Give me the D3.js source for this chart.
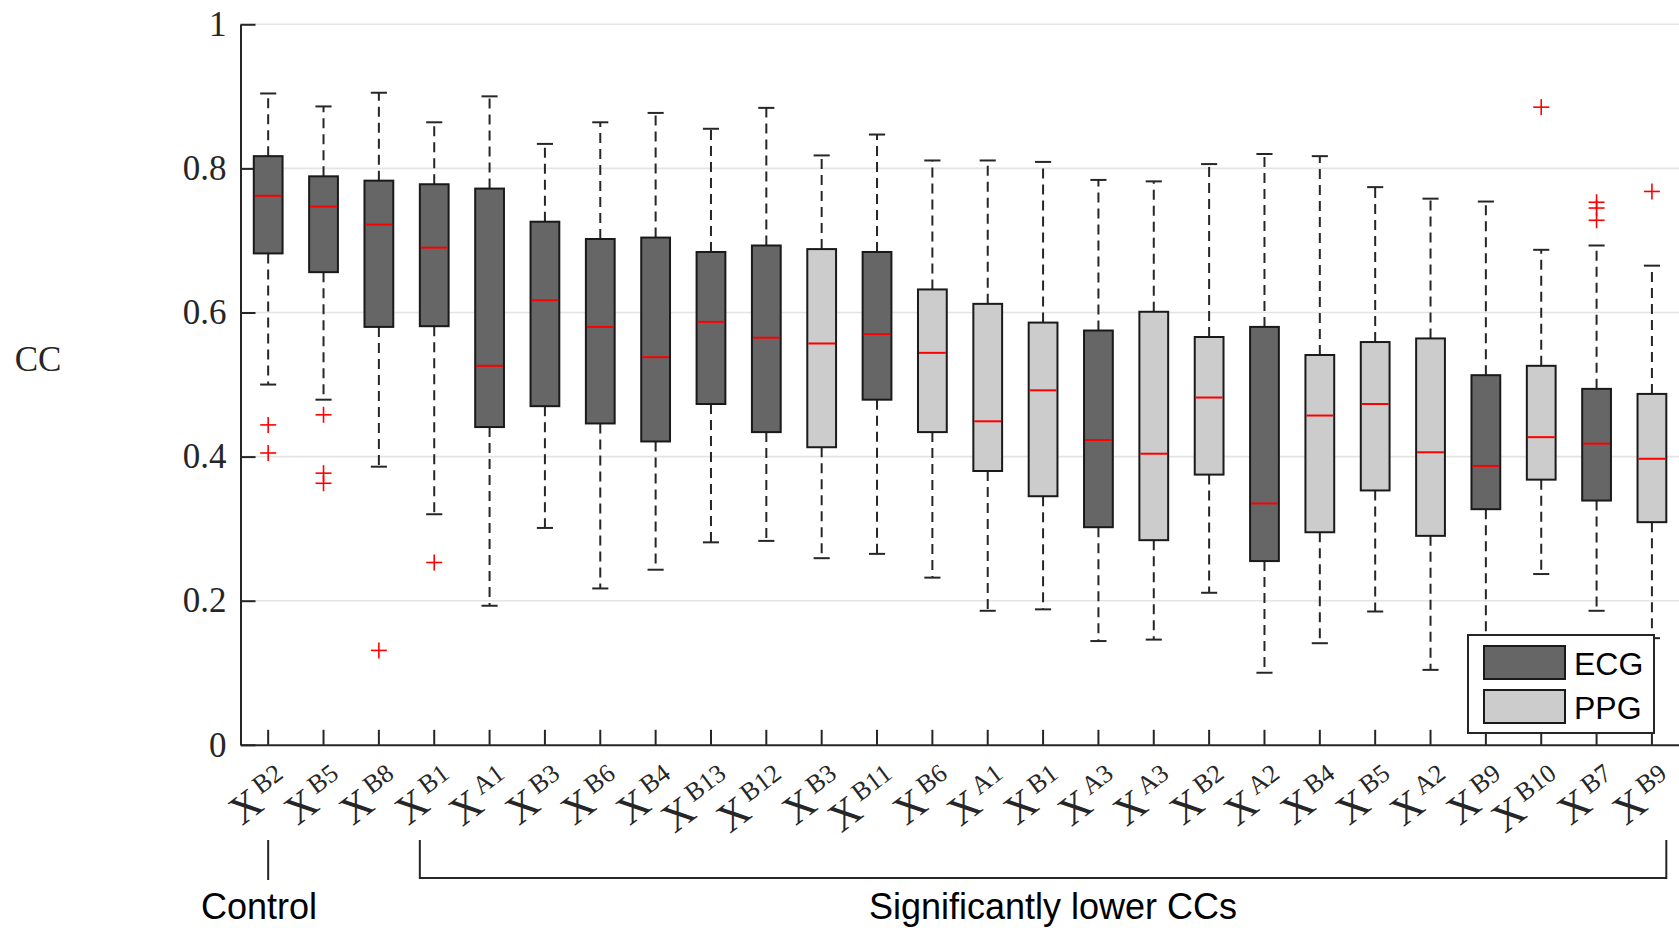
<!DOCTYPE html>
<html>
<head>
<meta charset="utf-8">
<script src="https://cdn.jsdelivr.net/npm/d3@7"></script>
<style>
  html, body { margin: 0; padding: 0; background: #fff; }
  svg { display: block; }
</style>
</head>
<body>
<svg id="chart" width="1679" height="930"></svg>
<script>
// ---- Data ----
const labelBase = "X";
const labelSup = ["B2","B5","B8","B1","A1","B3","B6","B4","B13","B12","B3","B11","B6","A1","B1","A3","A3","B2","A2","B4","B5","A2","B9","B10","B7","B9"];
const signalType = ["ECG","ECG","ECG","ECG","ECG","ECG","ECG","ECG","ECG","ECG","PPG","ECG","PPG","PPG","PPG","ECG","PPG","PPG","ECG","PPG","PPG","PPG","ECG","PPG","ECG","PPG"];
const whiskerHigh = [0.904,0.886,0.905,0.864,0.900,0.834,0.864,0.877,0.855,0.884,0.818,0.847,0.811,0.811,0.809,0.784,0.782,0.806,0.820,0.817,0.774,0.758,0.754,0.687,0.693,0.665];
const q3Values    = [0.817,0.789,0.783,0.778,0.772,0.726,0.702,0.704,0.684,0.693,0.688,0.684,0.632,0.612,0.586,0.575,0.601,0.566,0.580,0.541,0.559,0.564,0.513,0.526,0.494,0.487];
const medianValues= [0.762,0.747,0.722,0.690,0.526,0.617,0.580,0.538,0.587,0.565,0.557,0.570,0.544,0.449,0.492,0.423,0.404,0.482,0.335,0.457,0.473,0.406,0.387,0.427,0.418,0.397];
const q1Values    = [0.682,0.656,0.580,0.581,0.441,0.470,0.446,0.421,0.473,0.434,0.413,0.479,0.434,0.380,0.345,0.302,0.284,0.375,0.255,0.295,0.353,0.290,0.327,0.368,0.339,0.309];
const whiskerLow  = [0.500,0.479,0.386,0.320,0.193,0.301,0.217,0.243,0.281,0.283,0.259,0.265,0.232,0.186,0.188,0.144,0.146,0.211,0.100,0.141,0.185,0.104,0.130,0.237,0.186,0.148];
const outlierValues = [[0.444,0.405],[0.458,0.377,0.363],[0.131],[0.253],[],[],[],[],[],[],[],[],[],[],[],[],[],[],[],[],[],[],[],[0.885],[0.753,0.745,0.728],[0.768]];
const yTickValues = [0, 0.2, 0.4, 0.6, 0.8, 1];
const yTickLabels = ["0", "0.2", "0.4", "0.6", "0.8", "1"];
const legendLabels = ["ECG", "PPG"];
const yAxisTitle = "CC";
const controlLabel = "Control";
const lowerLabel = "Significantly lower CCs";

// ---- Layout ----
const svg = d3.select("#chart");
const plotLeft = 240.5, plotRight = 1679.6, plotTop = 24.3, plotBottom = 744.8;
const fillColor = {ECG: "#666666", PPG: "#cccccc"};
const serif = "'Liberation Serif', 'DejaVu Serif', serif";
const sans = "'Liberation Sans', Arial, sans-serif";

const idx = d3.range(labelSup.length);
const x = d3.scaleBand().domain(idx).range([plotLeft, plotRight]).paddingInner(0).paddingOuter(0);
const y = d3.scaleLinear().domain([0, 1]).range([plotBottom, plotTop]);
const cx = i => x(i) + x.bandwidth() / 2;
const boxW = x.bandwidth() * 0.52;
const capW = boxW * 0.56;

// gridlines
svg.append("g").selectAll("line").data(yTickValues.filter(v => v > 0)).join("line")
  .attr("x1", plotLeft).attr("x2", 1679)
  .attr("y1", d => y(d)).attr("y2", d => y(d))
  .attr("stroke", "#e4e4e4").attr("stroke-width", 1.6);

// y axis
const yAxis = svg.append("g").attr("transform", `translate(${plotLeft},0)`)
  .call(d3.axisLeft(y).tickValues(yTickValues)
    .tickFormat((d, i) => yTickLabels[i])
    .tickSizeInner(-15).tickSizeOuter(0).tickPadding(14));
yAxis.select(".domain").attr("stroke", "#262626").attr("stroke-width", 2);
yAxis.selectAll(".tick line").attr("stroke", "#262626").attr("stroke-width", 2);
yAxis.selectAll(".tick text").attr("font-family", serif).attr("font-size", 35).attr("fill", "#262626");

// x axis
const xAxis = svg.append("g").attr("transform", `translate(0,${plotBottom})`)
  .call(d3.axisBottom(x).tickFormat(() => "").tickSizeInner(-15).tickSizeOuter(0));
xAxis.select(".domain").attr("stroke", "#262626").attr("stroke-width", 2);
xAxis.selectAll(".tick line").attr("stroke", "#262626").attr("stroke-width", 2);

// x tick labels (rotated)
const lbl = svg.append("g").selectAll("text").data(idx).join("text")
  .attr("transform", i => `translate(${cx(i) + 25},${plotBottom + 43}) rotate(-37)`)
  .attr("text-anchor", "end")
  .attr("font-family", serif).attr("fill", "#262626");
lbl.append("tspan").attr("font-size", 41).text(labelBase);
lbl.append("tspan").attr("font-size", 26).attr("dy", -14).attr("dx", 4).text(i => labelSup[i]);

// boxes
const boxes = svg.append("g").selectAll("g").data(idx).join("g");
// whiskers (dashed)
boxes.append("line").attr("x1", cx).attr("x2", cx)
  .attr("y1", i => y(q3Values[i])).attr("y2", i => y(whiskerHigh[i]))
  .attr("stroke", "#262626").attr("stroke-width", 2).attr("stroke-dasharray", "10,6");
boxes.append("line").attr("x1", cx).attr("x2", cx)
  .attr("y1", i => y(q1Values[i])).attr("y2", i => y(whiskerLow[i]))
  .attr("stroke", "#262626").attr("stroke-width", 2).attr("stroke-dasharray", "10,6");
// caps
boxes.append("line").attr("x1", i => cx(i) - capW / 2).attr("x2", i => cx(i) + capW / 2)
  .attr("y1", i => y(whiskerHigh[i])).attr("y2", i => y(whiskerHigh[i]))
  .attr("stroke", "#262626").attr("stroke-width", 2);
boxes.append("line").attr("x1", i => cx(i) - capW / 2).attr("x2", i => cx(i) + capW / 2)
  .attr("y1", i => y(whiskerLow[i])).attr("y2", i => y(whiskerLow[i]))
  .attr("stroke", "#262626").attr("stroke-width", 2);
// box
boxes.append("rect")
  .attr("x", i => cx(i) - boxW / 2).attr("width", boxW)
  .attr("y", i => y(q3Values[i])).attr("height", i => y(q1Values[i]) - y(q3Values[i]))
  .attr("fill", i => fillColor[signalType[i]])
  .attr("stroke", "#1a1a1a").attr("stroke-width", 2);
// median
boxes.append("line").attr("x1", i => cx(i) - boxW / 2 + 1).attr("x2", i => cx(i) + boxW / 2 - 1)
  .attr("y1", i => y(medianValues[i])).attr("y2", i => y(medianValues[i]))
  .attr("stroke", "#ff0000").attr("stroke-width", 2);
// outliers
const outs = [];
idx.forEach(i => outlierValues[i].forEach(v => outs.push({i, v})));
const om = svg.append("g").selectAll("g").data(outs).join("g")
  .attr("transform", d => `translate(${cx(d.i)},${y(d.v)})`);
om.append("line").attr("x1", -8).attr("x2", 8).attr("y1", 0).attr("y2", 0)
  .attr("stroke", "#ff0000").attr("stroke-width", 1.6);
om.append("line").attr("x1", 0).attr("x2", 0).attr("y1", -8).attr("y2", 8)
  .attr("stroke", "#ff0000").attr("stroke-width", 1.6);

// y title
svg.append("text").attr("x", 38).attr("y", 371).attr("text-anchor", "middle")
  .attr("font-family", serif).attr("font-size", 35).attr("fill", "#262626").text(yAxisTitle);

// legend
const lg = svg.append("g");
lg.append("rect").attr("x", 1468).attr("y", 635).attr("width", 186).attr("height", 98)
  .attr("fill", "#fff").attr("stroke", "#262626").attr("stroke-width", 2);
legendLabels.forEach((name, k) => {
  lg.append("rect").attr("x", 1484).attr("y", 646 + k * 44).attr("width", 81).attr("height", 33)
    .attr("fill", fillColor[name]).attr("stroke", "#1a1a1a").attr("stroke-width", 2);
  lg.append("text").attr("x", 1574).attr("y", 675 + k * 44)
    .attr("font-family", sans).attr("font-size", 32).attr("fill", "#000").text(name);
});

// group annotations
const ann = svg.append("g").attr("stroke", "#262626").attr("stroke-width", 2).attr("fill", "none");
ann.append("line").attr("x1", cx(0)).attr("x2", cx(0)).attr("y1", 840).attr("y2", 880);
const bx1 = cx(3) - boxW / 2, bx2 = cx(idx.length - 1) + boxW / 2;
ann.append("path").attr("d", `M${bx1},840 V878 H${bx2} V840`);
svg.append("text").attr("x", 259).attr("y", 919).attr("text-anchor", "middle")
  .attr("font-family", sans).attr("font-size", 36).attr("fill", "#000").text(controlLabel);
svg.append("text").attr("x", 1053).attr("y", 919).attr("text-anchor", "middle")
  .attr("font-family", sans).attr("font-size", 36).attr("fill", "#000").text(lowerLabel);
</script>
</body>
</html>
